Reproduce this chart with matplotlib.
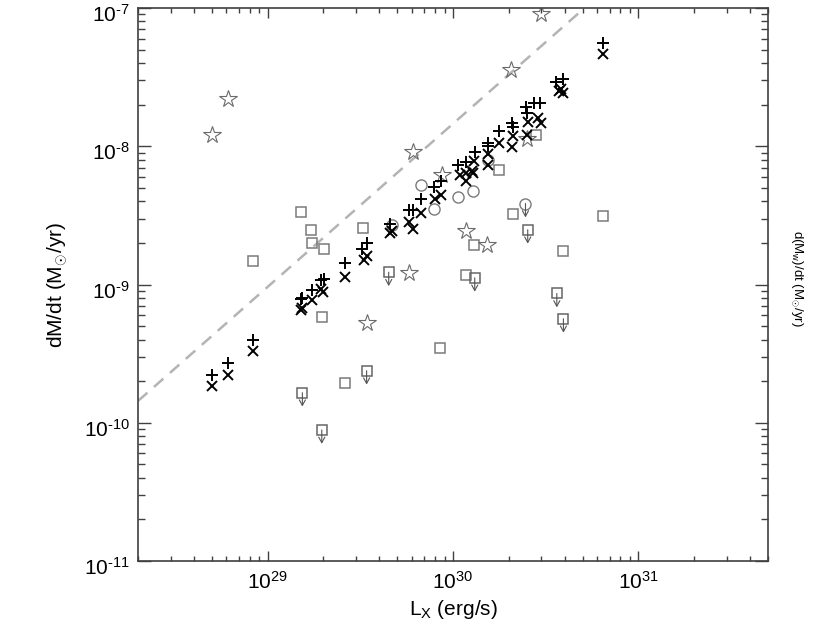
import matplotlib
matplotlib.use("Agg")
import matplotlib.pyplot as plt
import matplotlib.transforms as mtransforms
import numpy as np
from matplotlib.ticker import LogLocator, FixedLocator, NullFormatter

plt.rcParams['font.family'] = ['Liberation Sans', 'DejaVu Sans']
plt.rcParams['mathtext.fontset'] = 'custom'
plt.rcParams['mathtext.rm'] = 'Liberation Sans'
plt.rcParams['mathtext.it'] = 'Liberation Sans'
plt.rcParams['mathtext.sf'] = 'Liberation Sans'

# ---- data (L_X in erg/s, dM/dt in Msun/yr) ----
plus_lx = [5.0e28, 6.1e28, 8.3e28, 1.51e29, 1.54e29, 1.73e29, 1.95e29, 2.01e29, 2.63e29,
           3.23e29, 3.44e29, 4.60e29, 5.79e29, 6.08e29, 6.75e29, 7.87e29, 8.65e29, 1.06e30,
           1.18e30, 1.31e30, 1.54e30, 1.54e30, 1.76e30, 2.09e30, 2.10e30, 2.48e30, 2.50e30,
           2.75e30, 2.93e30, 3.60e30, 3.94e30, 6.45e30]
plus_mdot = [2.21e-10, 2.72e-10, 3.96e-10, 7.9e-10, 8.0e-10, 9.2e-10, 1.07e-9, 1.10e-9, 1.42e-9,
             1.82e-9, 2.00e-9, 2.76e-9, 3.48e-9, 3.48e-9, 4.16e-9, 5.04e-9, 5.57e-9, 7.27e-9,
             7.73e-9, 9.02e-9, 1.055e-8, 9.97e-9, 1.28e-8, 1.485e-8, 1.376e-8, 1.91e-8, 1.74e-8,
             2.07e-8, 2.07e-8, 2.94e-8, 3.07e-8, 5.62e-8]

cross_lx = [5.0e28, 6.1e28, 8.3e28, 1.51e29, 1.54e29, 1.73e29, 1.98e29, 1.95e29, 2.63e29,
            3.31e29, 3.42e29, 4.56e29, 4.66e29, 5.79e29, 6.08e29, 6.75e29, 7.96e29, 8.65e29,
            1.09e30, 1.18e30, 1.18e30, 1.26e30, 1.30e30, 1.28e30, 1.54e30, 1.54e30, 1.76e30,
            2.10e30, 2.09e30, 2.53e30, 2.50e30, 2.87e30, 3.00e30, 3.72e30, 3.91e30, 3.82e30,
            6.45e30]
cross_mdot = [1.83e-10, 2.21e-10, 3.28e-10, 6.5e-10, 6.8e-10, 7.7e-10, 8.8e-10, 9.25e-10, 1.14e-9,
              1.50e-9, 1.60e-9, 2.34e-9, 2.43e-9, 2.82e-9, 2.54e-9, 3.31e-9, 4.16e-9, 4.47e-9,
              6.15e-9, 5.57e-9, 6.40e-9, 6.58e-9, 7.77e-9, 6.40e-9, 8.83e-9, 7.35e-9, 1.055e-8,
              1.18e-8, 9.87e-9, 1.51e-8, 1.21e-8, 1.60e-8, 1.485e-8, 2.49e-8, 2.42e-8, 2.60e-8,
              4.65e-8]

star_lx = [5.0e28, 6.1e28, 6.08e29, 2.99e30, 2.06e30, 8.76e29, 2.50e30, 1.18e30, 1.52e30,
           5.79e29, 3.44e29]
star_mdot = [1.197e-8, 2.20e-8, 9.08e-9, 9.05e-8, 3.57e-8, 6.15e-9, 1.127e-8, 2.43e-9, 1.94e-9,
             1.215e-9, 5.29e-10]

square_lx = [1.51e29, 1.72e29, 1.74e29, 2.02e29, 3.25e29, 8.3e28, 1.97e29, 2.61e29, 2.81e30,
             1.76e30, 2.10e30, 6.48e30, 3.94e30, 1.29e30, 1.17e30, 8.55e29]
square_mdot = [3.35e-9, 2.49e-9, 1.98e-9, 1.82e-9, 2.57e-9, 1.49e-9, 5.78e-10, 1.95e-10, 1.197e-8,
               6.69e-9, 3.26e-9, 3.12e-9, 1.74e-9, 1.94e-9, 1.18e-9, 3.49e-10]

square_ul_lx = [4.50e29, 3.42e29, 1.54e29, 1.96e29, 2.53e30, 1.31e30, 3.63e30, 3.94e30]
square_ul_mdot = [1.227e-9, 2.38e-10, 1.65e-10, 8.87e-11, 2.49e-9, 1.118e-9, 8.61e-10, 5.65e-10]

circle_lx = [6.72e29, 7.87e29, 1.063e30, 1.28e30, 1.54e30, 4.67e29]
circle_mdot = [5.27e-9, 3.52e-9, 4.28e-9, 4.75e-9, 7.92e-9, 2.71e-9]

circle_ul_lx = [2.46e30]
circle_ul_mdot = [3.85e-9]

line_lx = [2.0e28, 5.12e30]
line_mdot = [1.437e-10, 1.0e-7]

xlim = (2e28, 5e31)
ylim = (1e-11, 1e-7)
x_major_ticks = [1e29, 1e30, 1e31]
y_major_ticks = [1e-11, 1e-10, 1e-9, 1e-8, 1e-7]

# ---- figure ----
fig = plt.figure(figsize=(8.30, 6.41), dpi=100)
ax = fig.add_axes([138/830, 1 - 561/641, (768-138)/830, (561-8)/641])
ax.set_xscale('log')
ax.set_yscale('log')
ax.set_xlim(*xlim)
ax.set_ylim(*ylim)

ax.plot(line_lx, line_mdot, color='#b4b4b4', lw=1.8, dashes=(5, 3.5), zorder=1)

gray = '#7a7a7a'
ax.plot(square_lx, square_mdot, ls='none', marker='s', ms=7.3, mfc='none', mec=gray, mew=1.1)
ax.plot(square_ul_lx, square_ul_mdot, ls='none', marker='s', ms=7.3, mfc='none', mec='#666666', mew=1.1)
ax.plot(circle_lx, circle_mdot, ls='none', marker='o', ms=8, mfc='none', mec=gray, mew=1.0)
ax.plot(circle_ul_lx, circle_ul_mdot, ls='none', marker='o', ms=8, mfc='none', mec=gray, mew=1.0)
ax.plot(star_lx, star_mdot, ls='none', marker='*', ms=13, mfc='none', mec='#6a6a6a', mew=0.8)
ax.plot(plus_lx, plus_mdot, ls='none', marker='+', ms=8.5, color='black', mew=1.4)
ax.plot(cross_lx, cross_mdot, ls='none', marker='x', ms=7.5, color='black', mew=1.4)

for lx, md in zip(square_ul_lx + circle_ul_lx, square_ul_mdot + circle_ul_mdot):
    ax.annotate('', xy=(lx, md), xycoords='data', xytext=(0, -10), textcoords='offset points',
                arrowprops=dict(arrowstyle='<-,head_width=0.22,head_length=0.4', color='#555555',
                                lw=0.8, shrinkA=0, shrinkB=0))

# ticks
spine_col = '#404040'
for s in ax.spines.values():
    s.set_color(spine_col)
    s.set_linewidth(1.2)

ax.xaxis.set_major_locator(FixedLocator(x_major_ticks))
ax.xaxis.set_minor_locator(LogLocator(base=10, subs=np.arange(2, 10), numticks=20))
ax.yaxis.set_major_locator(FixedLocator(y_major_ticks))
ax.yaxis.set_minor_locator(LogLocator(base=10, subs=np.arange(2, 10), numticks=20))
ax.xaxis.set_minor_formatter(NullFormatter())
ax.yaxis.set_minor_formatter(NullFormatter())

def fmt(v, pos):
    e = int(round(np.log10(v)))
    s = str(e).replace('-', '\u2010')
    return r'10$^{%s}$' % s

ax.xaxis.set_major_formatter(plt.FuncFormatter(fmt))
ax.yaxis.set_major_formatter(plt.FuncFormatter(fmt))

ax.tick_params(axis='both', which='both', direction='in', top=True, right=True,
               color=spine_col, width=1.0, labelsize=15)
ax.tick_params(axis='x', which='major', length=7.5, pad=7)
ax.tick_params(axis='x', which='minor', length=3.8)
ax.tick_params(axis='y', which='major', length=9.5, pad=6)
ax.tick_params(axis='y', which='minor', length=5)

fig.canvas.draw()
shift = mtransforms.ScaledTranslation(0, -5/100, fig.dpi_scale_trans)
for tick in ax.yaxis.get_major_ticks():
    tick.label1.set_transform(tick.label1.get_transform() + shift)

ax.set_xlabel(r'L$_{\rm X}$ (erg/s)', fontsize=15, labelpad=4)
ax.set_ylabel(r'dM/dt (M$_{\!\odot\!}$/yr)', fontsize=15, labelpad=10)

fig.text(797/830, 1 - 278/641, r'd(M$_{\rm w}$)/dt (M$_{\!\odot\!}$/yr)', rotation=-90,
         ha='center', va='center', fontsize=9.5)

fig.savefig('out.png', dpi=100)
